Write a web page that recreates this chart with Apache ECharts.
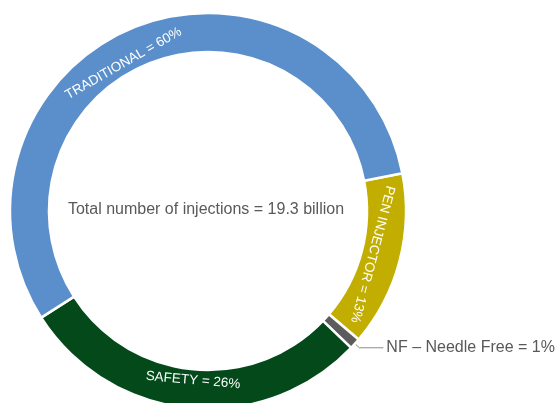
<!DOCTYPE html>
<html>
<head>
<meta charset="utf-8">
<script src="https://cdn.jsdelivr.net/npm/echarts@6/dist/echarts.min.js"></script>
<style>
html,body{margin:0;padding:0;background:#fff;}
#chart{width:557px;height:403px;}
</style>
</head>
<body>
<div id="chart"></div>
<script>
// Segments in clockwise drawing order (starting at the right side)
const categories = ['PEN INJECTOR', 'NF – Needle Free', 'SAFETY', 'TRADITIONAL'];
const labelTexts = ['PEN INJECTOR = 13%', 'NF – Needle Free = 1%', 'SAFETY = 26%', 'TRADITIONAL = 60%'];
// arc shares as drawn in the picture (percent of full circle)
const arcShares = [14.3, 0.9, 28.8, 56.0];
const centerText = 'Total number of injections = 19.3 billion';

const FONT = 'Liberation Sans, Arial, Helvetica, sans-serif';
const START = 11;           // degrees, ccw from east
const CX = 208, CY = 211;   // ring centre
const R0 = 159, R1 = 198;   // ring radii
const LABEL_R = 170;        // radius where ring labels sit
const labelNudge = [0, 0, -0.5, -8]; // small angular shift of label placement (deg)

const total = arcShares.reduce((a, b) => a + b, 0);
let cum = 0;
const mids = [];
const data = categories.map((name, i) => {
  const v = arcShares[i];
  const mid = -START + (cum + v / 2) / total * 360 + labelNudge[i]; // screen angle, cw from east
  mids.push(mid);
  cum += v;
  const s = Math.sin(mid * Math.PI / 180);
  let rot = s > 0.7 ? 90 - mid : -(mid + 90);
  while (rot > 180) rot -= 360;
  while (rot < -180) rot += 360;
  const item = { name: name, value: v };
  if (i === 1) {
    item.label = {
      position: 'outside', color: '#595959', fontSize: 16, fontFamily: FONT,
      formatter: () => labelTexts[i], distanceToLabelLine: 3
    };
    item.labelLine = { show: true, length: 6, length2: 24, smooth: false,
      lineStyle: { color: '#8c8c8c', width: 1 } };
  } else {
    item.label = { position: 'inside', rotate: rot, color: '#ffffff', fontSize: 13.5,
      fontFamily: FONT, formatter: () => labelTexts[i] };
    item.labelLine = { show: false };
  }
  return item;
});

const chart = echarts.init(document.getElementById('chart'), null, { renderer: 'canvas' });
chart.setOption({
  animation: false,
  backgroundColor: '#ffffff',
  color: ['#C2AE00', '#5C5C5C', '#03491A', '#5B8FCB'],
  graphic: [{
    type: 'text', x: 206, y: 210,
    style: { text: centerText, fill: '#595959', font: '16px ' + FONT,
      textAlign: 'center', textVerticalAlign: 'middle' }
  }],
  series: [{
    type: 'pie',
    center: [CX, CY],
    radius: [R0, R1],
    startAngle: START,
    clockwise: true,
    avoidLabelOverlap: false,
    silent: true,
    itemStyle: { borderColor: '#ffffff', borderWidth: 2.5 },
    emphasis: { disabled: true },
    label: { show: true },
    labelLayout: function (p) {
      const i = p.dataIndex;
      if (i === 1) return {};
      const a = mids[i] * Math.PI / 180;
      return { x: CX + LABEL_R * Math.cos(a), y: CY + LABEL_R * Math.sin(a),
        align: 'center', verticalAlign: 'middle' };
    },
    data: data
  }]
});
</script>
</body>
</html>
